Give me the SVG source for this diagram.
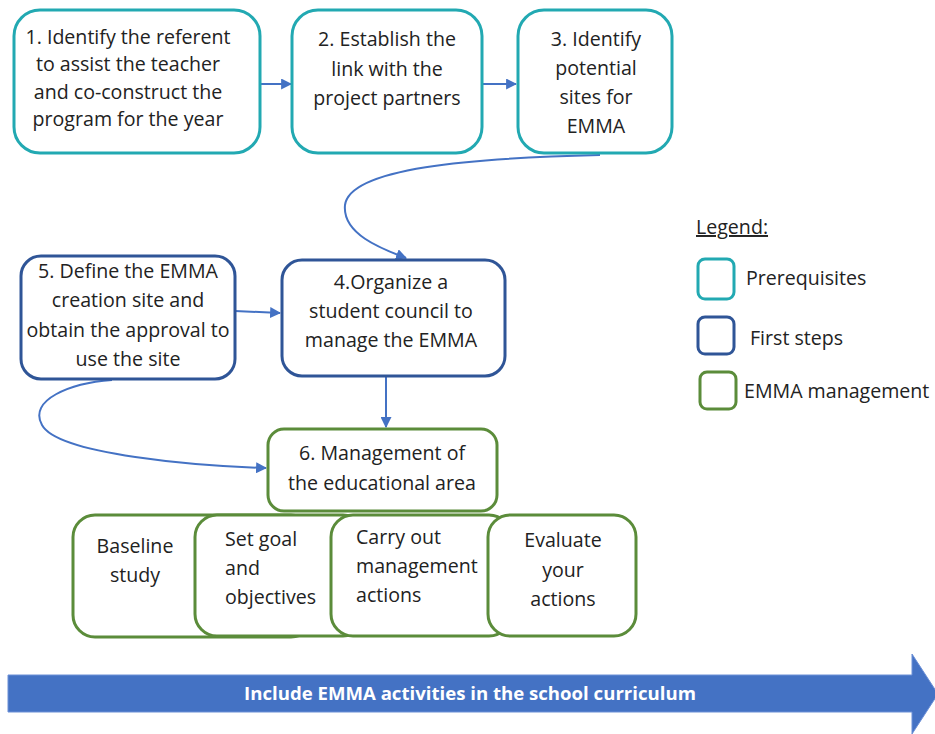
<svg xmlns="http://www.w3.org/2000/svg" width="935" height="734" viewBox="0 0 935 734">
<defs>
<style>
.t{font-family:"Open Sans","Liberation Sans",sans-serif;font-size:19.6px;fill:#222;text-anchor:middle}
.l{text-anchor:start}
.pre{fill:#fff;stroke:#22A9B2;stroke-width:3}
.fst{fill:#fff;stroke:#2F5597;stroke-width:3}
.mgt{fill:#fff;stroke:#5B8C3A;stroke-width:3}
.c{fill:none;stroke:#4472C4;stroke-width:2}
</style>
<marker id="ah" viewBox="0 0 10 10" refX="9" refY="5" markerWidth="5.5" markerHeight="5.5" orient="auto"><path d="M0,0 L10,5 L0,10 z" fill="#4472C4"/></marker>
</defs>
<rect width="935" height="734" fill="#fff"/>
<g id="connectors">
<path class="c" d="M260,84 L291,84" marker-end="url(#ah)"/>
<path class="c" d="M482,84 L516,84" marker-end="url(#ah)"/>
<path class="c" d="M600,155 C470,158 350,168 345,205 C342,235 385,250 406,258" marker-end="url(#ah)"/>
<path class="c" d="M235,311 L280,313" marker-end="url(#ah)"/>
<path class="c" d="M386,376 L386,427" marker-end="url(#ah)"/>
<path class="c" d="M112,380 C70,383 28,400 42,425 C58,455 200,466 266,468" marker-end="url(#ah)"/>
</g>
<g id="n1"><rect class="pre" x="14" y="10" width="246" height="143" rx="26"/>
<text class="t" x="128" y="44">1. Identify the referent</text><text class="t" x="128" y="71">to assist the teacher</text><text class="t" x="128" y="99">and co-construct the</text><text class="t" x="128" y="126">program for the year</text></g>
<g id="n2"><rect class="pre" x="292" y="10" width="190" height="143" rx="26"/>
<text class="t" x="387" y="46">2. Establish the</text><text class="t" x="387" y="76">link with the</text><text class="t" x="387" y="105">project partners</text></g>
<g id="n3"><rect class="pre" x="518" y="10" width="154" height="143" rx="26"/>
<text class="t" x="596" y="46">3. Identify</text><text class="t" x="596" y="75">potential</text><text class="t" x="596" y="104">sites for</text><text class="t" x="596" y="133">EMMA</text></g>
<g id="n5"><rect class="fst" x="21" y="256" width="214" height="123" rx="20"/>
<text class="t" x="128" y="278">5. Define the EMMA</text><text class="t" x="128" y="307">creation site and</text><text class="t" x="128" y="337">obtain the approval to</text><text class="t" x="128" y="366">use the site</text></g>
<g id="n4"><rect class="fst" x="282" y="260" width="223" height="116" rx="20"/>
<text class="t" x="391" y="289">4.Organize a</text><text class="t" x="391" y="318">student council to</text><text class="t" x="391" y="347">manage the EMMA</text></g>
<g id="n6"><rect class="mgt" x="268" y="429" width="229" height="82" rx="16"/>
<text class="t" x="382" y="460">6. Management of</text><text class="t" x="382" y="490">the educational area</text></g>
<g id="s1"><rect class="mgt" x="73" y="515" width="240" height="122" rx="22"/>
<text class="t" x="135" y="553">Baseline</text><text class="t" x="135" y="582">study</text></g>
<g id="s2"><rect class="mgt" x="195" y="515" width="170" height="121" rx="22"/>
<text class="t l" x="225" y="546">Set goal</text><text class="t l" x="225" y="575">and</text><text class="t l" x="225" y="604">objectives</text></g>
<g id="s3"><rect class="mgt" x="331" y="515" width="180" height="121" rx="22"/>
<text class="t l" x="356" y="544">Carry out</text><text class="t l" x="356" y="573">management</text><text class="t l" x="356" y="602">actions</text></g>
<g id="s4"><rect class="mgt" x="488" y="515" width="148" height="121" rx="22"/>
<text class="t" x="563" y="547">Evaluate</text><text class="t" x="563" y="577">your</text><text class="t" x="563" y="606">actions</text></g>
<g id="legend">
<text class="t l" x="696" y="234" text-decoration="underline">Legend:</text>
<rect class="pre" x="698" y="259" width="36" height="40" rx="7"/>
<text class="t l" x="746" y="285">Prerequisites</text>
<rect class="fst" x="698" y="317" width="36" height="37" rx="7"/>
<text class="t l" x="750" y="345">First steps</text>
<rect class="mgt" x="700" y="372" width="36" height="37" rx="7"/>
<text class="t l" x="744" y="398">EMMA management</text>
</g>
<g id="curriculum">
<path d="M8,675 L912,675 L912,654 L938,694 L912,734 L912,712 L8,712 z" fill="#4472C4" stroke="#6B8FD6" stroke-width="1"/>
<text x="470" y="700" style="font-family:'Open Sans','Liberation Sans',sans-serif;font-size:18.6px;font-weight:bold;fill:#fff;text-anchor:middle">Include EMMA activities in the school curriculum</text>
</g>
</svg>
